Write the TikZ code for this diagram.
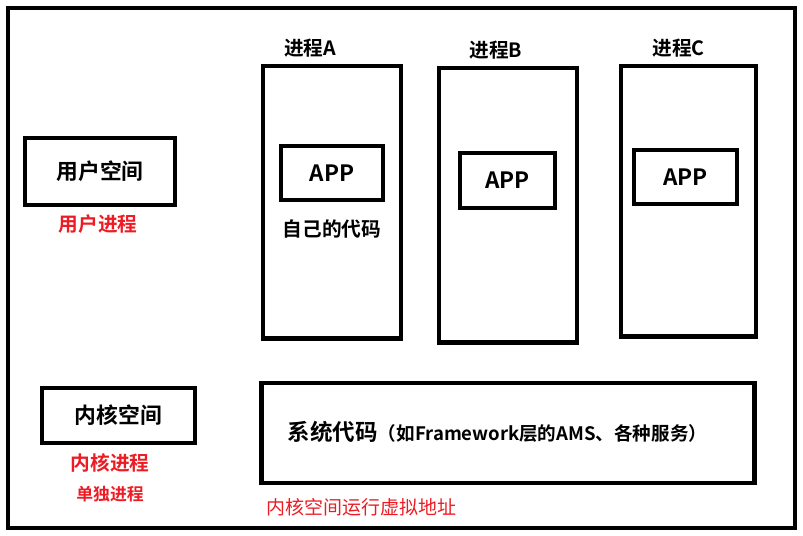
\documentclass[tikz,border=0pt]{standalone}
\usepackage{fontspec}
\setmainfont{Noto Sans CJK SC}[BoldFont={* Bold}]
\usetikzlibrary{positioning}
\definecolor{labelred}{RGB}{237,28,36}

\begin{document}
\begin{tikzpicture}[x=0.025cm, y=-0.025cm,
  font=\bfseries\fontsize{14}{16}\selectfont, node distance=2mm,
  box/.style={rectangle, draw, line width=3.5pt, inner sep=0pt},
  space/.style={box, font=\bfseries\fontsize{15.5}{18}\selectfont},
  proc/.style={box, minimum width=3.45cm, minimum height=6.8cm},
  app/.style={box, minimum width=2.5cm, minimum height=1.35cm, font=\bfseries\fontsize{16}{18}\selectfont},
  rl/.style={text=labelred, inner sep=0pt}]
\useasboundingbox (0,0) rectangle (803,535);
\draw[line width=3.5pt] (8,8) rectangle (795,528);
% left column
\node[space, minimum width=3.75cm, minimum height=1.675cm] (us) at (100,171.5) {用户空间};
\node[rl] (up) at (98,224) {用户进程};
\node[space, minimum width=3.825cm, minimum height=1.375cm] (ks) at (118.5,415.5) {内核空间};
\node[rl] (kp) at (110,463) {内核进程};
\node[rl, font=\bfseries\fontsize{12}{14}\selectfont, below=3.3mm of kp] (sp) {单独进程};
% processes
\node[proc] (pa) at (332,202) {};
\node[proc, minimum height=6.85cm] (pb) at (508,205) {};
\node[proc, minimum width=3.375cm, minimum height=6.75cm] (pc) at (688.5,201) {};
\node[above=0.3mm of pa, xshift=-0.55cm] (la) {进程A};
\node[above=0.3mm of pb, xshift=-0.3cm] (lb) {进程B};
\node[above=0.3mm of pc, xshift=-0.25cm] (lc) {进程C};
\node[app, minimum width=2.55cm] (appa) at (332,173) {APP};
\node[app, minimum width=2.375cm, minimum height=1.375cm] (appb) at (507.5,180.5) {APP};
\node[app, minimum width=2.575cm] (appc) at (685.5,177) {APP};
\node[below=3mm of appa] (own) {自己的代码};
% kernel
\node[box, minimum width=12.3cm, minimum height=2.5cm] (sys) at (508,433) {};
\node[anchor=west, font=\bfseries\fontsize{16}{18}\selectfont] (sc) at (283,432) {系统代码{\fontsize{13.2}{16}\selectfont （如Framework层的AMS、各种服务）}};
\node[rl, anchor=west, font=\mdseries\fontsize{13.5}{16}\selectfont] (va) at (266,507) {内核空间运行虚拟地址};
\end{tikzpicture}
\end{document}
